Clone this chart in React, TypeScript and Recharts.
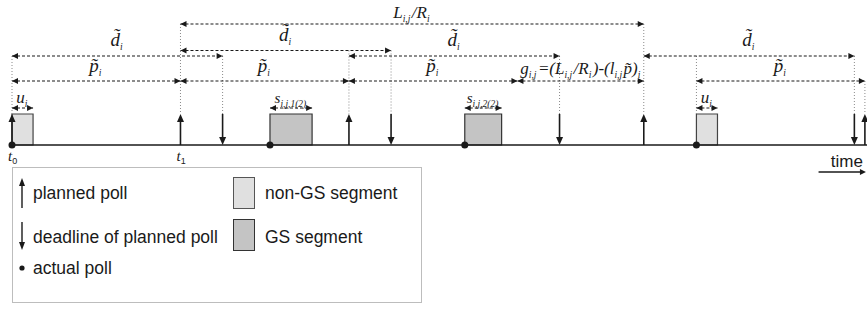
import { ComposedChart, XAxis, YAxis, Scatter, ReferenceLine, ReferenceArea, Legend } from 'recharts'

// time values (in poll-period units)
const plannedPolls = [0, 8, 16, 30, 40.5]
const deadlines = [10, 18, 26, 40]
const actualPolls = [0, 12.25, 21.5, 32.5]
const nonGsSegments = [[0, 1], [32.5, 33.5]]
const gsSegments = [[12.25, 14.25], [21.5, 23.25]]
const dSpans = [[0, 10], [8, 18], [16, 26], [30, 40]]
const pSpans = [[0, 8], [8, 16], [16, 24], [32.5, 40.5]]
const segSpans = [[0, 1], [12.25, 14.25], [21.5, 23.25], [32.5, 33.5]]
const segLabels = ['u', 's1', 's2', 'u']
const gSpan = [24, 30]
const lrSpan = [8, 30]
const timeLabels = [{ t: 0, name: '0' }, { t: 8, name: '1' }]
const timeArrow = [38.3, 40.55]

// layout (pixel rows, chart y axis runs top-down)
const W = 867
const H = 309
const X_DOMAIN = [-0.57, 40.6]
const ROW_LR = 24
const ROW_D_HI = 50.5
const ROW_D = 56
const ROW_P = 81
const ROW_U = 108
const TOP = 114
const BASE = 145
const ROW_TIME = 172

const guides: [number, number][] = [
  [0, ROW_D], [8, ROW_LR], [10, ROW_D], [16, ROW_D_HI], [18, ROW_D_HI],
  [26, ROW_D], [30, ROW_LR], [32.5, ROW_D], [40, ROW_D], [40.5, ROW_P],
]

const INK = '#1a1a1a'
const serif = { fontFamily: '"Liberation Serif", serif', fontStyle: 'italic' as const }
const sans = '"Liberation Sans", Arial, sans-serif'

const Sub = ({ children }: { children: string }) => (
  <>
    <tspan fontSize={9.5} dy={4}>{children}</tspan>
    <tspan dy={-4}>{'\u200a'}</tspan>
  </>
)

function mathLabel(id: string) {
  switch (id) {
    case 'd': return <>{'d\u0303'}<Sub>i</Sub></>
    case 'p': return <>{'p\u0303'}<Sub>i</Sub></>
    case 'u': return <>u<Sub>i</Sub></>
    case 's1': return <>s<Sub>i,j,1(2)</Sub></>
    case 's2': return <>s<Sub>i,j,2(2)</Sub></>
    case 'LR': return <>L<Sub>i,j</Sub>/R<Sub>i</Sub></>
    case 'g':
      return <>g<Sub>i,j</Sub>=(L<Sub>i,j</Sub>/R<Sub>i</Sub>)-(l<Sub>i,j</Sub>{'p\u0303'})<Sub>i</Sub></>
    default: return null
  }
}

const head = (x: number, y: number, dir: number) => (
  <path d={`M${x},${y} L${x - dir * 6},${y - 3} L${x - dir * 6},${y + 3} Z`} fill={INK} />
)

function DashedArrow(props: any, label: string, lift: number, size: number, anchor = 'middle') {
  const { x1, y1, x2 } = props
  const lx = anchor === 'end' ? x2 - 2 : (x1 + x2) / 2
  return (
    <g>
      <line x1={x1} y1={y1} x2={x2} y2={y1} stroke={INK} strokeWidth={1.2} strokeDasharray="3 2" />
      {head(x1, y1, -1)}
      {head(x2, y1, 1)}
      <text x={lx} y={y1 - lift} textAnchor={anchor} fontSize={size} fill={INK} {...serif}>
        {mathLabel(label)}
      </text>
    </g>
  )
}

const UpArrow = (props: any) => {
  const { cx, cy } = props
  return (
    <g>
      <line x1={cx} y1={cy} x2={cx} y2={cy - 26} stroke={INK} strokeWidth={1.6} />
      <path d={`M${cx},${cy - 31} L${cx - 3.5},${cy - 23} L${cx + 3.5},${cy - 23} Z`} fill={INK} />
    </g>
  )
}

const DownArrow = (props: any) => {
  const { cx, cy } = props
  return (
    <g>
      <line x1={cx} y1={cy - 31} x2={cx} y2={cy - 5} stroke={INK} strokeWidth={1.6} />
      <path d={`M${cx},${cy} L${cx - 3.5},${cy - 8} L${cx + 3.5},${cy - 8} Z`} fill={INK} />
    </g>
  )
}

const PollDot = (props: any) => <circle cx={props.cx} cy={props.cy} r={3.5} fill={INK} />

const TimeLabel = (props: any) => (
  <text x={props.cx - 4} y={props.cy + 16} fontSize={15} fill={INK} {...serif}>
    t<tspan fontSize={9} dy={3} fontStyle="normal" fontFamily={sans}>{props.payload.name}</tspan>
  </text>
)

function LegendBox() {
  return (
    <svg width={410} height={136} style={{ display: 'block' }}>
      <rect x={0.5} y={0.5} width={409} height={135} fill="#fff" stroke="#bdbdbd" />
      <line x1={10} y1={41} x2={10} y2={17} stroke={INK} strokeWidth={1.4} />
      <path d="M10,11 L7,19 L13,19 Z" fill={INK} />
      <line x1={10} y1={55} x2={10} y2={77} stroke={INK} strokeWidth={1.4} />
      <path d="M10,83 L7,75 L13,75 Z" fill={INK} />
      <circle cx={10} cy={101} r={2.6} fill={INK} />
      <rect x={221.5} y={10.5} width={21} height={31} fill="#e0e0e0" stroke="#555" />
      <rect x={221.5} y={52.5} width={21} height={31} fill="#c4c4c4" stroke="#333" />
      <g fontFamily={sans} fontSize={17.5} fill={INK}>
        <text x={21} y={32}>planned poll</text>
        <text x={21} y={76}>deadline of planned poll</text>
        <text x={21} y={107}>actual poll</text>
        <text x={253} y={32}>non-GS segment</text>
        <text x={253} y={76}>GS segment</text>
      </g>
    </svg>
  )
}

export default function App() {
  const pts = (arr: number[]) => arr.map((t) => ({ t, y: BASE }))
  const dRows: number[] = []
  dSpans.forEach((s, i) => {
    const prev = dSpans[i - 1]
    const overlap = prev && s[0] < prev[1] && dRows[i - 1] === ROW_D
    dRows.push(overlap ? ROW_D_HI : ROW_D)
  })

  return (
    <div style={{ position: 'absolute', left: 0, top: 0, width: W, height: H, background: '#fff' }}>
      <ComposedChart width={W} height={H} margin={{ top: 0, right: 0, bottom: 0, left: 0 }}>
        <XAxis type="number" dataKey="t" domain={X_DOMAIN} hide allowDataOverflow />
        <YAxis type="number" dataKey="y" domain={[0, H]} reversed hide allowDataOverflow />

        {guides.map(([t, top], i) => (
          <ReferenceLine key={`g${i}`} segment={[{ x: t, y: top }, { x: t, y: TOP }]} stroke="#8a8a8a" strokeWidth={1} strokeDasharray="1 2" />
        ))}

        <ReferenceLine segment={[{ x: 0, y: BASE }, { x: X_DOMAIN[1], y: BASE }]} stroke={INK} strokeWidth={1.6} />

        {nonGsSegments.map(([a, b], i) => (
          <ReferenceArea key={`n${i}`} x1={a} x2={b} y1={TOP} y2={BASE} fill="#e0e0e0" fillOpacity={1} stroke="#444" strokeWidth={1.2} />
        ))}
        {gsSegments.map(([a, b], i) => (
          <ReferenceArea key={`s${i}`} x1={a} x2={b} y1={TOP} y2={BASE} fill="#c4c4c4" fillOpacity={1} stroke="#333" strokeWidth={1.2} />
        ))}

        <ReferenceLine segment={[{ x: lrSpan[0], y: ROW_LR }, { x: lrSpan[1], y: ROW_LR }]} shape={(p: any) => DashedArrow(p, 'LR', 6, 17)} />
        {dSpans.map(([a, b], i) => (
          <ReferenceLine key={`d${i}`} segment={[{ x: a, y: dRows[i] }, { x: b, y: dRows[i] }]} shape={(p: any) => DashedArrow(p, 'd', 10, 19)} />
        ))}
        {pSpans.map(([a, b], i) => (
          <ReferenceLine key={`p${i}`} segment={[{ x: a, y: ROW_P }, { x: b, y: ROW_P }]} shape={(p: any) => DashedArrow(p, 'p', 9, 19)} />
        ))}
        <ReferenceLine segment={[{ x: gSpan[0], y: ROW_P }, { x: gSpan[1], y: ROW_P }]} shape={(p: any) => DashedArrow(p, 'g', 7, 17, 'end')} />
        {segSpans.map(([a, b], i) => (
          <ReferenceLine key={`u${i}`} segment={[{ x: a, y: ROW_U }, { x: b, y: ROW_U }]} shape={(p: any) => DashedArrow(p, segLabels[i], 5, segLabels[i] === 'u' ? 17 : 15)} />
        ))}

        <ReferenceLine
          segment={[{ x: timeArrow[0], y: ROW_TIME }, { x: timeArrow[1], y: ROW_TIME }]}
          shape={(p: any) => (
            <g>
              <line x1={p.x1} y1={p.y1} x2={p.x2 - 4} y2={p.y1} stroke={INK} strokeWidth={1.4} />
              {head(p.x2, p.y1, 1)}
              <text x={p.x2 - 3} y={p.y1 - 5} textAnchor="end" fontFamily={sans} fontSize={17} fill={INK}>time</text>
            </g>
          )}
        />

        <Scatter name="planned poll" data={pts(plannedPolls)} shape={UpArrow} isAnimationActive={false} />
        <Scatter name="deadline of planned poll" data={pts(deadlines)} shape={DownArrow} isAnimationActive={false} />
        <Scatter name="actual poll" data={pts(actualPolls)} shape={PollDot} isAnimationActive={false} />
        <Scatter name="t" data={timeLabels.map((d) => ({ ...d, y: BASE }))} shape={TimeLabel} isAnimationActive={false} />

        <Legend
          layout="vertical"
          align="center"
          verticalAlign="middle"
          content={() => <LegendBox />}
          wrapperStyle={{ left: 12, top: 167, width: 410, height: 136 }}
        />
      </ComposedChart>
    </div>
  )
}
